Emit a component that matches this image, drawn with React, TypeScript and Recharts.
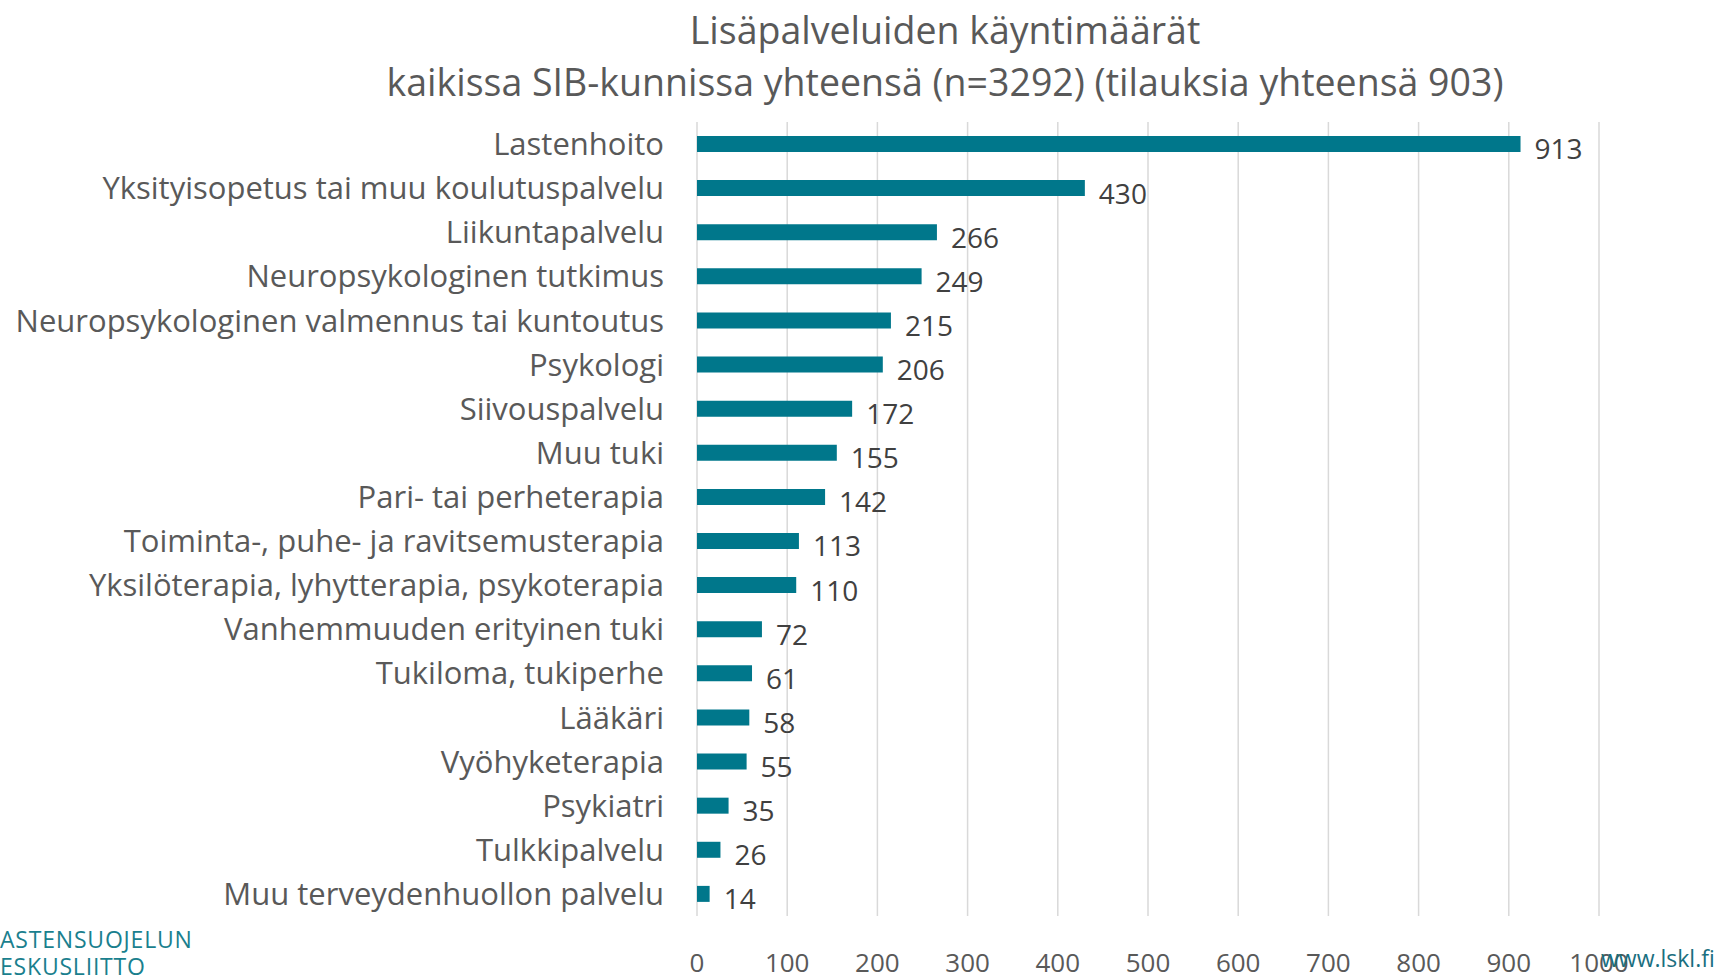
import { Bar, BarChart, CartesianGrid, LabelList, XAxis, YAxis } from "recharts";

const categories = [
  "Lastenhoito",
  "Yksityisopetus tai muu koulutuspalvelu",
  "Liikuntapalvelu",
  "Neuropsykologinen tutkimus",
  "Neuropsykologinen valmennus tai kuntoutus",
  "Psykologi",
  "Siivouspalvelu ",
  "Muu tuki",
  "Pari- tai perheterapia",
  "Toiminta-, puhe- ja ravitsemusterapia",
  "Yksilöterapia, lyhytterapia, psykoterapia",
  "Vanhemmuuden erityinen tuki",
  "Tukiloma, tukiperhe",
  "Lääkäri",
  "Vyöhyketerapia",
  "Psykiatri",
  "Tulkkipalvelu",
  "Muu terveydenhuollon palvelu",
];

const visits = [913, 430, 266, 249, 215, 206, 172, 155, 142, 113, 110, 72, 61, 58, 55, 35, 26, 14];

const xTicks = [0, 100, 200, 300, 400, 500, 600, 700, 800, 900, 1000];

const data = categories.map((name, i) => ({ name, value: visits[i] }));

const FONT = "'Open Sans', sans-serif";

const renderLabel = (props: any) => {
  const { x, y, width, height, value } = props;
  return (
    <text
      x={x + width + 14}
      y={y + height / 2 + 8}
      fill="#404040"
      fontSize={28}
      fontFamily={FONT}
      dominantBaseline="middle"
    >
      {value}
    </text>
  );
};

export default function App() {
  return (
    <div
      style={{
        position: "fixed",
        top: 0,
        left: 0,
        width: 1717,
        height: 980,
        background: "#fff",
        overflow: "hidden",
        fontFamily: FONT,
      }}
    >
      <div
        style={{
          position: "absolute",
          top: 4,
          left: 0,
          width: 1890,
          textAlign: "center",
          color: "#595959",
          fontSize: 37.5,
          lineHeight: "52px",
        }}
      >
        Lisäpalveluiden käyntimäärät
        <br />
        kaikissa SIB-kunnissa yhteensä (n=3292) (tilauksia yhteensä 903)
      </div>
      <BarChart
        width={1717}
        height={980}
        data={data}
        layout="vertical"
        margin={{ top: 122, right: 118, left: 0, bottom: 0 }}
        barCategoryGap={14}
      >
        <CartesianGrid horizontal={false} stroke="#d9d9d9" strokeWidth={1.5} />
        <XAxis
          type="number"
          domain={[0, 1000]}
          ticks={xTicks}
          axisLine={false}
          tickLine={false}
          tickSize={0}
          tickMargin={38}
          height={64}
          interval={0}
          tick={{ fill: "#595959", fontSize: 26, fontFamily: FONT }}
        />
        <YAxis
          type="category"
          dataKey="name"
          width={697}
          axisLine={false}
          tickLine={false}
          tickSize={0}
          tickMargin={33}
          interval={0}
          tick={{ fill: "#595959", fontSize: 31, fontFamily: FONT }}
        />
        <Bar dataKey="value" fill="#00778b" barSize={16} isAnimationActive={false}>
          <LabelList dataKey="value" content={renderLabel} />
        </Bar>
      </BarChart>
      <div
        style={{
          position: "absolute",
          left: 0,
          top: 926,
          color: "#1a7f8e",
          fontSize: 23,
          lineHeight: "27px",
          letterSpacing: 0.8,
        }}
      >
        ASTENSUOJELUN
        <br />
        ESKUSLIITTO
      </div>
      <div
        style={{
          position: "absolute",
          left: 1601,
          top: 942,
          color: "#1a6f80",
          fontSize: 23,
        }}
      >
        www.lskl.fi
      </div>
    </div>
  );
}
